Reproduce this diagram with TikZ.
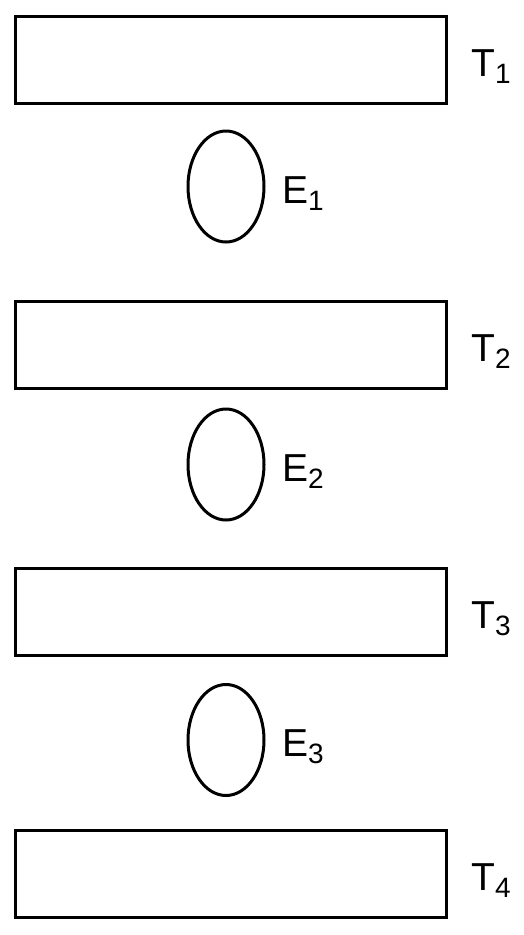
\documentclass[tikz,border=0pt]{standalone}
\usepackage{fontspec}
\setmainfont{Liberation Sans}
\usepackage{tikz}
\usetikzlibrary{shapes.geometric}

\begin{document}
\begin{tikzpicture}[x=1pt, y=-1pt]
  % Styles
  \tikzstyle{tape}=[draw, line width=3pt, minimum width=431pt, minimum height=87pt, inner sep=0pt]
  \tikzstyle{egg}=[draw, ellipse, line width=3pt, minimum width=76pt, minimum height=111pt, inner sep=0pt]
  \tikzstyle{lab}=[anchor=west, inner sep=0pt, font=\fontsize{39}{40}\selectfont]
  \newcommand{\sublab}[2]{#1\raisebox{-7pt}{\fontsize{28}{28}\selectfont #2}}

  \useasboundingbox (0,0) rectangle (523,935);

  % Rectangles
  \node[tape] (t1) at (230.5,59.5) {};
  \node[tape] (t2) at (230.5,344.5) {};
  \node[tape] (t3) at (230.5,612) {};
  \node[tape] (t4) at (230.5,874) {};

  % Ellipses
  \node[egg] (e1) at (226,186.5) {};
  \node[egg] (e2) at (226,464.5) {};
  \node[egg] (e3) at (226,740) {};

  % Labels
  \node[lab] (lt1) at (471,67) {\sublab{T}{1}};
  \node[lab] (lt2) at (471,352) {\sublab{T}{2}};
  \node[lab] (lt3) at (471,619) {\sublab{T}{3}};
  \node[lab] (lt4) at (471,881) {\sublab{T}{4}};

  \node[lab] (le1) at (282,194) {\sublab{E}{1}};
  \node[lab] (le2) at (282,472) {\sublab{E}{2}};
  \node[lab] (le3) at (282,747) {\sublab{E}{3}};
\end{tikzpicture}
\end{document}
